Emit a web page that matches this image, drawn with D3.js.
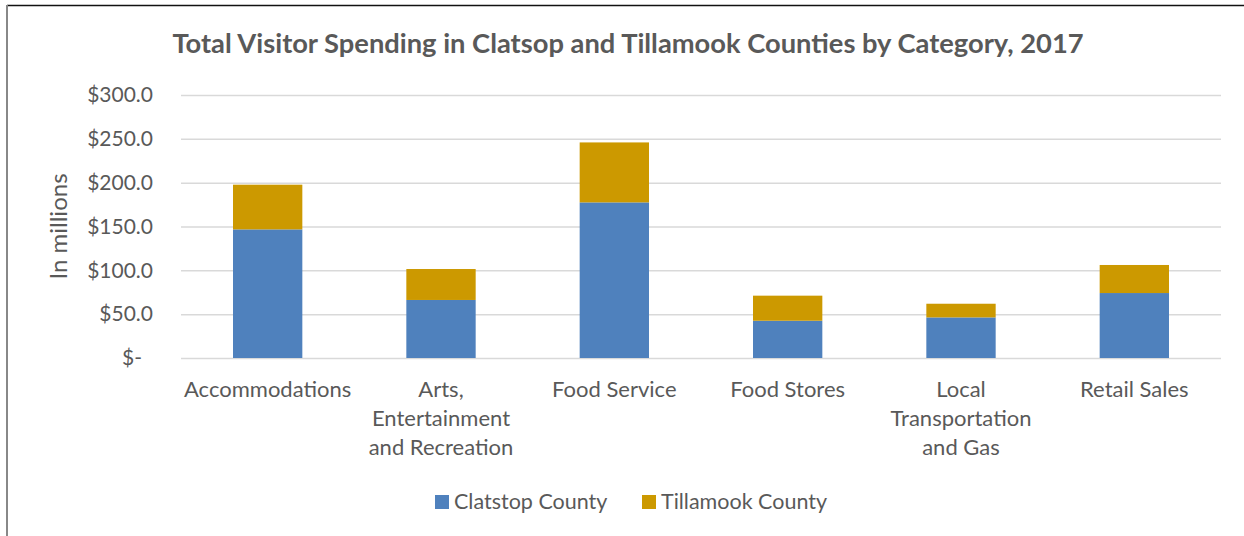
<!DOCTYPE html>
<html>
<head>
<meta charset="utf-8">
<script src="https://cdn.jsdelivr.net/npm/d3@7"></script>
<style>
  html, body { margin: 0; padding: 0; background: #fff; }
  svg { display: block; }
  text { font-family: Lato, "Noto Sans", sans-serif; fill: #595959; }
</style>
</head>
<body>
<svg id="chart" width="1244" height="536"></svg>
<script>
// Visitor spending by category, in millions of dollars
const categories = [
  "Accommodations",
  "Arts, Entertainment and Recreation",
  "Food Service",
  "Food Stores",
  "Local Transportation and Gas",
  "Retail Sales"
];
const categoryLines = [
  ["Accommodations"],
  ["Arts,", "Entertainment", "and Recreation"],
  ["Food Service"],
  ["Food Stores"],
  ["Local", "Transportation", "and Gas"],
  ["Retail Sales"]
];
const clatsop = [146.7, 66.2, 177.5, 42.5, 46.3, 74.1];
const tillamook = [51.0, 35.3, 68.4, 28.6, 15.6, 32.0];
const seriesNames = ["Clatstop County", "Tillamook County"];
const seriesColors = ["#4F81BD", "#CC9900"];
const yTicks = [0, 50, 100, 150, 200, 250, 300];
const titleText = "Total Visitor Spending in Clatsop and Tillamook Counties by Category, 2017";
const yAxisTitle = "In millions";

const svg = d3.select("#chart");
const W = 1244, H = 536;
const plot = { left: 181, right: 1221, top: 95, bottom: 358 };

// frame edges
svg.append("line").attr("x1", 7).attr("x2", W).attr("y1", 5.5).attr("y2", 5.5)
  .attr("stroke", "#111").attr("stroke-width", 1.5);
svg.append("line").attr("x1", 7).attr("x2", 7).attr("y1", 5).attr("y2", H)
  .attr("stroke", "#888").attr("stroke-width", 2);

const x = d3.scaleBand().domain(categories).range([plot.left, plot.right]).padding(0);
const y = d3.scaleLinear().domain([0, 300]).range([plot.bottom, plot.top]);
const barW = x.bandwidth() * 0.4;

// gridlines + tick labels
const yAxis = d3.axisLeft(y).tickValues(yTicks).tickSize(-(plot.right - plot.left))
  .tickPadding(28)
  .tickFormat(d => d === 0 ? "$-" : "$" + d3.format(".1f")(d));
const gy = svg.append("g").attr("transform", `translate(${plot.left},0)`).call(yAxis);
gy.select(".domain").remove();
gy.selectAll(".tick line").attr("stroke", "#D9D9D9").attr("stroke-width", 1.5);
gy.selectAll(".tick text").attr("font-size", 21).attr("fill", "#595959")
  .attr("font-family", "Lato, 'Noto Sans', sans-serif");
gy.selectAll(".tick text").filter(d => d === 0).attr("dx", -11);

// stacked bars
const rows = categories.map((c, i) => ({ cat: c, a: clatsop[i], b: tillamook[i] }));
const stack = d3.stack().keys(["a", "b"])(rows);
svg.append("g").selectAll("g").data(stack).join("g")
  .attr("fill", (d, i) => seriesColors[i])
  .selectAll("rect").data(d => d).join("rect")
  .attr("x", d => x(d.data.cat) + (x.bandwidth() - barW) / 2)
  .attr("width", barW)
  .attr("y", d => y(d[1]))
  .attr("height", d => y(d[0]) - y(d[1]));

// category labels
const lab = svg.append("g");
categories.forEach((c, i) => {
  const t = lab.append("text")
    .attr("x", x(c) + x.bandwidth() / 2)
    .attr("y", 397)
    .attr("text-anchor", "middle")
    .attr("font-size", 22);
  categoryLines[i].forEach((ln, j) => {
    t.append("tspan").attr("x", x(c) + x.bandwidth() / 2).attr("dy", j === 0 ? 0 : 29).text(ln);
  });
});

// axis title
svg.append("text")
  .attr("transform", `translate(67,${(plot.top + plot.bottom) / 2}) rotate(-90)`)
  .attr("text-anchor", "middle").attr("font-size", 24).text(yAxisTitle);

// chart title
svg.append("text").attr("x", 628).attr("y", 53).attr("text-anchor", "middle")
  .attr("font-size", 27.3).attr("font-weight", "bold").text(titleText);

// legend
const legendX = [435, 642];
seriesNames.forEach((n, i) => {
  svg.append("rect").attr("x", legendX[i]).attr("y", 495).attr("width", 14).attr("height", 14)
    .attr("fill", seriesColors[i]);
  svg.append("text").attr("x", legendX[i] + 19).attr("y", 509).attr("font-size", 21.5).text(n);
});
</script>
</body>
</html>
